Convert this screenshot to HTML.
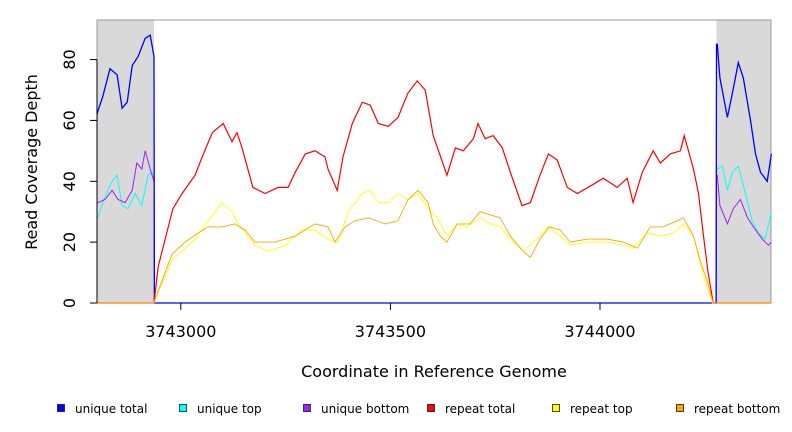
<!DOCTYPE html>
<html><head><meta charset="utf-8"><style>
body{margin:0;background:#fff}
svg{display:block;font-family:"DejaVu Sans","Liberation Sans",sans-serif}
</style></head><body>
<svg id="chart" width="792" height="432" viewBox="0 0 792 432">
<g id="bg"></g><g id="series"></g><g id="axes"></g><g id="legend"></g>
</svg>
<script>
const xDomain=[3742800,3744408];
const yDomain=[0,93];
const xTicks=[3743000,3743500,3744000];
const yTicks=[0,20,40,60,80];
const shaded=[[3742800,3742936],[3744278,3744408]];
const B=3742800;
const utX=[0,2,14,31,48,60,72,84,98,115,127,136,137,1477,1478,1480,1486,1504,1516,1523,1530,1542,1559,1571,1583,1599,1609].map(v=>v+B);
const utY=[62,63,68,77,75,64,66,78,81,87,88,81,0,0,85,85,74,61,69,74,79,74,60,49,43,40,49];
const upX=[0,2,19,36,48,60,74,91,107,122,131,136,137,1477,1478,1480,1492,1504,1516,1530,1547,1563,1578,1594,1609].map(v=>v+B);
const upY=[28,28,35,40,42,32,31,36,32,42,43,40,0,0,44,44,45,37,43,45,36,27,23,21,30];
const ubX=[0,2,19,36,50,67,84,95,107,115,127,136,137,1477,1478,1480,1486,1504,1518,1535,1552,1566,1587,1602,1609].map(v=>v+B);
const ubY=[33,33,34,37,34,33,37,46,44,50,44,40,0,0,42,42,32,26,31,34,28,25,21,19,20];
const rtX=[0,136,146,181,203,234,251,275,301,322,334,346,372,401,432,456,473,497,520,544,551,573,587,609,633,652,671,695,718,742,764,783,802,835,855,874,898,909,926,945,967,986,1014,1034,1057,1077,1098,1122,1146,1184,1208,1241,1265,1279,1301,1327,1344,1368,1392,1401,1423,1435,1447,1458,1470,1609].map(v=>v+B);
const rtY=[0,0,12,31,36,42,48,56,59,53,56,51,38,36,38,38,43,49,50,48,44,37,48,59,66,65,59,58,61,69,73,70,55,42,51,50,54,59,54,55,51,43,32,33,42,49,47,38,36,39,41,38,41,33,43,50,46,49,50,55,44,36,22,10,0,0];
const rpX=[0,136,138,179,203,234,265,298,322,337,377,408,449,489,520,551,575,599,633,652,671,695,718,742,766,790,812,835,859,883,914,938,962,986,1017,1050,1077,1105,1129,1170,1217,1256,1279,1313,1344,1375,1399,1423,1439,1456,1468,1609].map(v=>v+B);
const rpY=[0,0,1,14,17,21,27,33,30,26,19,17,19,24,24,21,20,30,36,37,33,33,36,34,36,31,28,22,26,25,28,26,25,21,17,21,25,22,19,20,20,19,18,23,22,23,26,22,13,5,0,0];
const rbX=[0,136,138,179,210,241,265,298,329,353,377,425,473,520,551,568,592,616,647,687,718,742,766,790,802,819,835,859,890,914,938,962,986,1017,1034,1057,1079,1105,1129,1170,1217,1256,1289,1320,1350,1384,1399,1423,1439,1456,1470,1609].map(v=>v+B);
const rbY=[0,0,1,16,20,23,25,25,26,24,20,20,22,26,25,20,25,27,28,26,27,34,37,33,26,22,20,26,26,30,29,28,22,17,15,21,25,24,20,21,21,20,18,25,25,27,28,22,14,7,0,0];
const seriesNames=["unique total","unique top","unique bottom","repeat total","repeat top","repeat bottom"];
const seriesColors=["#0000ff","#00ffff","#a020f0","#ff0000","#ffff00","#ffa500"];

const L=97,R=771,T=20,Bt=303;
const xs=v=>L+(v-xDomain[0])/(xDomain[1]-xDomain[0])*(R-L);
const ys=v=>Bt-(v-yDomain[0])/(yDomain[1]-yDomain[0])*(Bt-T);
const NS="http://www.w3.org/2000/svg";
function mk(tag,parent,attrs){const e=document.createElementNS(NS,tag);for(const k in attrs)e.setAttribute(k,attrs[k]);parent.appendChild(e);return e;}
const bg=document.getElementById('bg'),sg=document.getElementById('series'),ag=document.getElementById('axes'),lg=document.getElementById('legend');
shaded.forEach(s=>{const r=mk('rect',bg,{x:xs(s[0]),y:T,width:xs(s[1])-xs(s[0]),height:Bt-T,fill:'#d9d9d9'});

});
const fr=mk('rect',bg,{x:L,y:T,width:R-L,height:Bt-T,fill:'none',stroke:'#999','stroke-width':1});


const data=[[upX,upY,1],[ubX,ubY,1],[utX,utY,1.3],[rtX,rtY,1.2],[rpX,rpY,0.9],[rbX,rbY,0.9]];
const idx=[1,2,0,3,4,5];
const nm=['line-unique-top','line-unique-bottom','line-unique-total','line-repeat-total','line-repeat-top','line-repeat-bottom'];
data.forEach((d,i)=>{let p=d[0].map((x,j)=>xs(x).toFixed(1)+','+ys(d[1][j]).toFixed(1)).join(' ');
const pl=mk('polyline',sg,{points:p,fill:'none',stroke:seriesColors[idx[i]],'stroke-width':d[2],'stroke-linejoin':'miter'});

});
// y axis
const ya=mk('line',ag,{x1:L,y1:ys(0),x2:L,y2:ys(80),stroke:'#000'});


yTicks.forEach(t=>{mk('line',ag,{x1:L-7,x2:L,y1:ys(t),y2:ys(t),stroke:'#000'});
const tx=mk('text',ag,{x:0,y:0,transform:`translate(75,${ys(t)}) rotate(-90)`,'text-anchor':'middle','font-size':16});
tx.textContent=t;

});
xTicks.forEach(t=>{mk('line',ag,{x1:xs(t),x2:xs(t),y1:Bt,y2:Bt+7,stroke:'#000'});
const tx=mk('text',ag,{x:xs(t),y:337,'text-anchor':'middle','font-size':16});
tx.textContent=t;

});
const yt=mk('text',ag,{transform:'translate(37,162) rotate(-90)','text-anchor':'middle','font-size':16});
yt.textContent='Read Coverage Depth';


const xt=mk('text',ag,{x:434,y:377,'text-anchor':'middle','font-size':16});
xt.textContent='Coordinate in Reference Genome';


const lx=[57,179,303,427,552,676];
seriesNames.forEach((n,i)=>{const g=mk('g',lg,{});


mk('rect',g,{x:lx[i]+0.5,y:404.5,width:7,height:7,fill:seriesColors[i],stroke:'#000','stroke-width':0.7});
const t=mk('text',g,{x:lx[i]+18,y:413,'font-size':12});t.textContent=n;});
</script>
</body></html>
